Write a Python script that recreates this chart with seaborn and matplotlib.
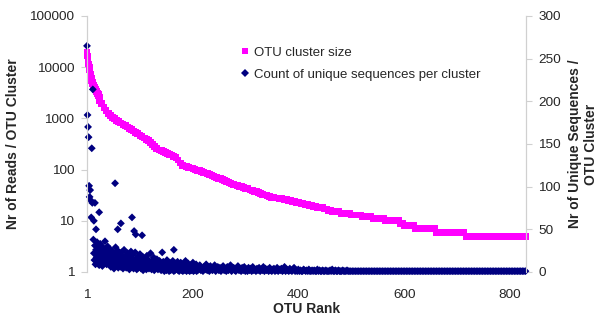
import numpy as np
import pandas as pd
import seaborn as sns
import matplotlib.pyplot as plt
from matplotlib.lines import Line2D

sns.set_theme(style='white')
plt.rcParams['font.family'] = ['Liberation Sans', 'DejaVu Sans']

# OTU cluster size (reads), ranks 1..24 one by one
head_size = [19800, 16500, 13800, 11500, 10000, 8800, 7100, 6500, 6000, 5500,
             5100, 4800, 4500, 4300, 4100, 3900, 3700, 3500, 3350, 3200,
             3050, 2900, 2750, 2600]
# ranks 25, 29, 33, ... (every 4th rank)
body_size = [2210, 1920, 1660, 1440, 1250, 1130, 1055, 990, 925, 867,
             813, 765, 721, 679, 640, 602, 566, 532, 501, 471,
             443, 416, 391, 368, 340, 312, 286, 263, 241, 233,
             224, 216, 208, 200, 193, 182, 171, 154, 135, 122,
             118, 115, 111, 107, 104, 101, 97, 95, 92, 89,
             86, 83, 80, 77, 74, 71, 68, 66, 63, 61,
             59, 57, 54, 52, 50, 49, 47, 46, 44, 43,
             42, 40, 39, 38, 37, 36, 34, 33, 32, 31,
             30, 29, 29, 28, 28, 27, 27, 26, 26, 25,
             25, 24, 24, 23, 23, 22, 22, 21, 21, 20,
             20, 19, 19, 18, 18, 18, 17, 17, 16, 16,
             15, 15, 15, 15, 14, 14, 14, 14, 14, 13,
             13, 13, 13, 13, 12, 12, 12, 12, 12, 11,
             11, 11, 11, 11, 11, 10, 10, 10, 10, 10,
             10, 10, 9, 9]
# flat steps at the end: size level and number of points (every 4th rank)
tail_level = [8, 7, 6, 5]
tail_points = [5, 10, 14, 29]

# count of unique sequences per cluster: isolated high points
uniq_top_rank = [1, 2, 3, 4, 5, 6, 7, 8, 9, 10, 11, 12,
                 14, 16, 18, 24, 54, 59, 65, 86, 90, 93, 105, 143, 165]
uniq_top_count = [265, 184, 170, 158, 101, 88, 96, 84, 64, 145, 81, 214,
                  60, 81, 50, 70, 104, 50, 57, 64, 48, 44, 43, 23, 26]
# dense band, every rank from 13 to 212
uniq_band_dense = [38, 22, 14, 31, 9, 26, 17, 35, 12, 20, 28, 8, 15, 33, 11, 24, 18, 7, 29, 13,
                   21, 10, 36, 16, 25, 9, 19, 30, 12, 23, 14,
                   27, 11, 6, 19, 14, 24, 8, 16, 4, 21, 12, 29, 7, 17, 10, 25, 5, 13, 20, 9,
                   15, 6, 23, 11, 18, 4, 14, 26, 8, 12, 19, 5, 16, 10, 22, 7, 13, 3, 17, 9,
                   24, 6, 11,
                   20, 8, 4, 14, 10, 23, 6, 12, 3, 17, 9, 5, 15, 7, 21, 11, 4, 13, 8, 18,
                   2, 10, 6, 16, 5, 12, 3, 19, 9, 7, 14, 4, 11, 6, 22, 8, 3, 13, 5, 10,
                   17, 2, 7, 12, 4, 9, 15, 6, 3, 11, 5,
                   13, 4, 8, 2, 10, 5, 3, 12, 6, 1, 9, 4, 7, 2, 14, 5, 3, 8, 1, 11,
                   6, 2, 4, 9, 3, 13, 5, 1, 7, 2, 10, 4, 6, 3, 12, 2, 5, 1, 8, 3,
                   11, 4, 2, 6, 1, 9, 3, 5, 2, 13, 4, 1, 7, 3, 10, 2, 5, 1, 8, 4,
                   2, 6, 3, 11, 1, 4, 2, 7, 3, 9, 1, 5, 2, 6, 3]
# thinner band, every 2nd rank from 214 to 496
uniq_band_sparse = [8, 2, 4, 1, 6, 3, 9, 2, 5, 1, 7, 3, 2, 4, 8, 1, 3, 6, 2, 5,
                    1, 4, 7, 2, 3, 1, 6, 2, 4, 8, 1, 3, 5, 2, 1, 4, 7, 2, 3, 1,
                    5, 2, 6, 1,
                    3, 1, 5, 2, 4, 1, 6, 2, 3, 1, 4, 2, 5, 1, 3, 2, 6, 1, 4, 2,
                    3, 1, 5, 2, 1, 3, 4, 1, 2, 5, 1, 3, 2, 4, 1, 2, 6, 1, 3, 2,
                    1, 4, 2, 1, 3, 5, 1,
                    2, 1, 3, 1, 2, 1, 1, 3, 2, 1, 2, 1, 3, 1, 1, 2, 1, 2, 1, 1,
                    3, 1, 2, 1, 1, 2, 1, 1, 2, 1, 1, 1, 2, 1, 3, 1, 1, 2, 1, 1,
                    2, 1, 1, 1, 2, 1, 1, 1, 2, 1, 1]
# clusters with a single unique sequence (every 3rd rank after the band)
uniq_tail_ones = 111

# build the tables
size_rank = list(range(1, len(head_size) + 1))
size_rank += list(25 + 4 * np.arange(len(body_size)))
size_val = head_size + body_size
r = 25 + 4 * len(body_size)
for lvl, n in zip(tail_level, tail_points):
    size_rank += list(r + 4 * np.arange(n))
    size_val += [lvl] * n
    r += 4 * n
sizes = pd.DataFrame({'rank': size_rank, 'size': size_val})

dense_rank = list(13 + np.arange(len(uniq_band_dense)))
sparse_rank = list(dense_rank[-1] + 2 + 2 * np.arange(len(uniq_band_sparse)))
one_rank = list(sparse_rank[-1] + 3 + 3 * np.arange(uniq_tail_ones))
uniq = pd.DataFrame({
    'rank': uniq_top_rank + dense_rank + sparse_rank + one_rank,
    'count': uniq_top_count + uniq_band_dense + uniq_band_sparse + [1] * uniq_tail_ones,
})

fig = plt.figure(figsize=(6, 3.16), dpi=100)
ax = fig.add_axes([87 / 600, 44 / 316, 439 / 600, 256 / 316])
ax2 = ax.twinx()

sns.scatterplot(data=sizes, x='rank', y='size', ax=ax, marker='s', s=24,
                color='#ff00ff', edgecolor='none', linewidth=0, clip_on=False)
sns.scatterplot(data=uniq, x='rank', y='count', ax=ax2, marker='D', s=16,
                color='#000080', edgecolor='none', linewidth=0, clip_on=False)

ax.set_yscale('log')
ax.set_ylim(1, 100000)
ax.set_xlim(1, 830)
ax2.set_ylim(0, 300)
ax.set_yticks([1, 10, 100, 1000, 10000, 100000])
ax.set_yticklabels(['1', '10', '100', '1000', '10000', '100000'])
ax.minorticks_off()
ax2.set_yticks([0, 50, 100, 150, 200, 250, 300])
ax.set_xticks([1, 200, 400, 600, 800])

for a in (ax, ax2):
    for s in ('top', 'bottom'):
        a.spines[s].set_visible(False)
    a.spines['left'].set_color('#d0d0d0')
    a.spines['right'].set_color('#d0d0d0')
    a.spines['left'].set_linewidth(0.8)
    a.spines['right'].set_linewidth(0.8)
    a.grid(False)
ax.tick_params(axis='y', which='major', direction='out', length=4, width=0.8,
               color='#d0d0d0', pad=5, labelsize=9.7, left=True)
ax2.tick_params(axis='y', which='major', direction='out', length=4, width=0.8,
                color='#d0d0d0', pad=5, labelsize=9.7, right=True)
ax.tick_params(axis='x', length=0, pad=12, labelsize=9.7)

ax.set_xlabel('OTU Rank', fontsize=10, fontweight='bold', labelpad=1)
ax.set_ylabel('Nr of Reads / OTU Cluster', fontsize=10, fontweight='bold', labelpad=7)
ax2.set_ylabel('Nr of Unique Sequences /\nOTU Cluster', fontsize=10,
               fontweight='bold', labelpad=5)

handles = [Line2D([], [], linestyle='none', marker='s', markersize=4.2,
                  color='#ff00ff', markeredgewidth=0),
           Line2D([], [], linestyle='none', marker='D', markersize=3.6,
                  color='#000080', markeredgewidth=0)]
fig.legend(handles, ['OTU cluster size', 'Count of unique sequences per cluster'],
           loc='upper left', bbox_to_anchor=(233 / 600, 1 - 40 / 316),
           frameon=False, borderpad=0, handlelength=0.8, handletextpad=0.3,
           labelspacing=0.75, fontsize=9.5)

fig.savefig('out.png', dpi=100)
